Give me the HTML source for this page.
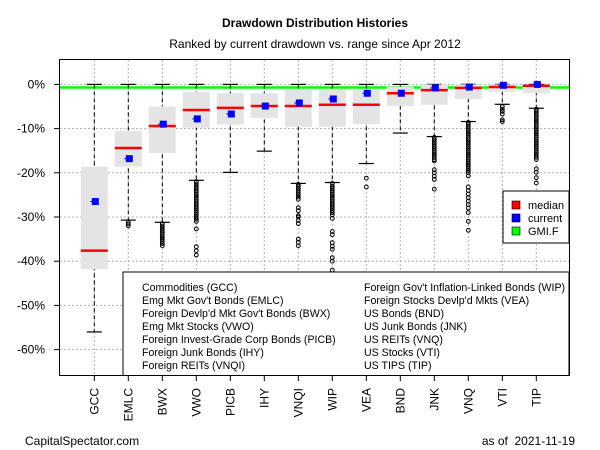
<!DOCTYPE html>
<html><head><meta charset="utf-8"><style>
html,body{margin:0;padding:0;background:#fff}
svg{display:block;font-family:"Liberation Sans",Arial,sans-serif}
</style></head><body>
<svg id="chart" width="600" height="450" viewBox="0 0 600 450" xmlns="http://www.w3.org/2000/svg">
<text x="315" y="27" text-anchor="middle" font-size="12" font-weight="bold">Drawdown Distribution Histories</text>
<text x="315" y="48" text-anchor="middle" font-size="12">Ranked by current drawdown vs. range since Apr 2012</text>
<g id="grid"></g>
<g id="yaxis"></g>
<g id="xaxis"></g>
<g id="boxes"></g>
<rect x="59.5" y="59.5" width="510" height="316" fill="none" stroke="#000" stroke-width="1"/>
<g>
<rect x="503" y="191" width="66" height="52" fill="#fff" stroke="#000"/>
<rect x="512" y="201" width="8" height="8" fill="#f00" stroke="#000" stroke-width="0.6"/>
<text x="528" y="209" font-size="11">median</text>
<rect x="512" y="214" width="8" height="8" fill="#00f" stroke="#000" stroke-width="0.6"/>
<text x="528" y="222" font-size="11">current</text>
<rect x="512" y="227" width="8" height="8" fill="#0f0" stroke="#000" stroke-width="0.6"/>
<text x="528" y="235" font-size="11">GMI.F</text>
</g>
<g>
<rect x="123" y="272" width="446" height="103.5" fill="#fff" stroke="#000"/>
<g font-size="10.6">
<text x="142" y="291">Commodities (GCC)</text>
<text x="142" y="304">Emg Mkt Gov't Bonds (EMLC)</text>
<text x="142" y="317">Foreign Devlp'd Mkt Gov't Bonds (BWX)</text>
<text x="142" y="330">Emg Mkt Stocks (VWO)</text>
<text x="142" y="343">Foreign Invest-Grade Corp Bonds (PICB)</text>
<text x="142" y="356">Foreign Junk Bonds (IHY)</text>
<text x="142" y="369">Foreign REITs (VNQI)</text>
<text x="364" y="291">Foreign Gov't Inflation-Linked Bonds (WIP)</text>
<text x="364" y="304">Foreign Stocks Devlp'd Mkts (VEA)</text>
<text x="364" y="317">US Bonds (BND)</text>
<text x="364" y="330">US Junk Bonds (JNK)</text>
<text x="364" y="343">US REITs (VNQ)</text>
<text x="364" y="356">US Stocks (VTI)</text>
<text x="364" y="369">US TIPS (TIP)</text>
</g></g>
<text x="25" y="445" font-size="12">CapitalSpectator.com</text>
<text x="575" y="445" font-size="12" text-anchor="end">as of&#160; 2021-11-19</text>
</svg>
<script>
const categories=["GCC","EMLC","BWX","VWO","PICB","IHY","VNQI","WIP","VEA","BND","JNK","VNQ","VTI","TIP"];
const whiskerHigh=[0,0,0,0,0,0,0,0,0,0,0,0,0,0];
const boxTop=[-18.6,-10.5,-5,-1.7,-2,-2,-1.1,-1.1,-1.1,-0.5,0,0,0,0];
const medians=[-37.6,-14.4,-9.4,-5.8,-5.3,-4.9,-4.9,-4.6,-4.6,-2,-1.3,-0.8,-0.6,-0.3];
const boxBottom=[-41.8,-18.6,-15.5,-9.8,-9.1,-7.6,-9.6,-9.6,-9,-4.9,-4.6,-3.3,-1.7,-2];
const whiskerLow=[-56,-30.7,-31.2,-21.7,-19.9,-15.1,-22.4,-22.2,-17.9,-11,-11.8,-8.4,-4.5,-5.4];
const current=[-26.5,-16.8,-9,-7.8,-6.7,-4.9,-4.2,-3.3,-2,-2,-0.8,-0.6,-0.2,0];
const gmiF=-0.7;
const outliers=[
[],
[-31.2,-31.6,-32],
[-31.5,-32,-32.5,-33,-33.5,-34,-34.5,-35,-35.5,-36,-36.5],
[-22,-22.5,-23,-23.5,-24,-24.5,-25,-25.5,-26,-26.5,-27,-27.5,-28,-28.5,-29,-29.5,-30,-30.5,-31,-32.7,-36.7,-37.6,-38.6],
[],
[],
[-22.6,-23,-23.5,-24,-24.5,-25,-25.5,-26,-27.9,-28.6,-29.7,-30,-30.8,-31.5,-35,-35.7,-36.5],
[-22.4,-23,-23.5,-24,-24.5,-25,-25.5,-26,-26.5,-27,-27.5,-28,-28.5,-29,-29.5,-30.3,-33.3,-34,-35.8,-36.6,-37.3,-39.2,-40,-42],
[-21.2,-23.2],
[],
[-12,-12.5,-13,-13.5,-14,-14.5,-15,-15.5,-16,-16.5,-17,-17.3,-19.3,-20,-20.8,-21.5,-23.7],
[-8.6,-9,-9.5,-10,-10.5,-11,-11.5,-12,-12.5,-13,-13.5,-14,-14.5,-15,-15.5,-16,-16.5,-17,-17.5,-18,-18.5,-19,-19.5,-20,-20.7,-23.2,-24,-24.8,-25.6,-26.4,-27.2,-28,-29,-31,-33],
[-5,-5.6,-6.1,-6.7,-8,-8.4],
[-5.6,-6,-6.5,-7,-7.5,-8,-8.5,-9,-9.5,-10,-10.5,-11,-11.5,-12,-12.5,-13,-13.5,-14,-14.5,-15,-15.5,-16,-16.5,-17,-19.1,-19.9,-21.1,-22.3]
];
const yTicks=[0,-10,-20,-30,-40,-50,-60];
const yTickLabels=["0%","-10%","-20%","-30%","-40%","-50%","-60%"];

const NS="http://www.w3.org/2000/svg";
const Y0=84.4, PX=4.42;
function yScale(v){return Y0-v*PX;}
function xScale(i){return 94.3+i*34;}
function mk(tag,attrs,parent){const e=document.createElementNS(NS,tag);for(const k in attrs)e.setAttribute(k,attrs[k]);parent.appendChild(e);return e;}
const grid=document.getElementById('grid'),yaxis=document.getElementById('yaxis'),xaxis=document.getElementById('xaxis'),boxes=document.getElementById('boxes');

yTicks.forEach((t,k)=>{
  const y=yScale(t);
  const g=mk('line',{x1:60,x2:569,y1:y,y2:y,stroke:'#b0b0b0','stroke-dasharray':'2,2','stroke-width':1},grid);
  
  
  const tk=mk('line',{x1:54,x2:59.5,y1:y,y2:y,stroke:'#000'},yaxis);
  
  
  const tx=mk('text',{x:45,y:y+4,'text-anchor':'end','font-size':12},yaxis);
  tx.textContent=yTickLabels[k];
  
  
});
categories.forEach((c,i)=>{
  const x=xScale(i);
  const g=mk('line',{x1:x,x2:x,y1:60,y2:375,stroke:'#b0b0b0','stroke-dasharray':'2,2','stroke-width':1},grid);
  
  
  const tk=mk('line',{x1:x,x2:x,y1:375.5,y2:381,stroke:'#000'},xaxis);
  
  
  const tx=mk('text',{x:0,y:0,'text-anchor':'end','font-size':12,transform:`translate(${x+4},388) rotate(-90)`},xaxis);
  tx.textContent=c;
  
  
});
const gl=mk('line',{x1:60,x2:569,y1:yScale(gmiF),y2:yScale(gmiF),stroke:'#00ff00','stroke-width':2.5},grid);



categories.forEach((c,i)=>{
  const x=xScale(i), bw=27, cw=13;
  const g=mk('g',{},boxes);
  
  
  const w=mk('line',{x1:x,x2:x,y1:yScale(whiskerHigh[i]),y2:yScale(whiskerLow[i]),stroke:'#000','stroke-dasharray':'4,3','stroke-width':1},g);
  
  
  [whiskerHigh[i],whiskerLow[i]].forEach(v=>{
    const cap=mk('line',{x1:x-cw/2-1,x2:x+cw/2+1,y1:yScale(v),y2:yScale(v),stroke:'#000','stroke-width':1.2},g);
    
    
  });
  const b=mk('rect',{x:x-bw/2,y:yScale(boxTop[i]),width:bw,height:yScale(boxBottom[i])-yScale(boxTop[i]),fill:'#e4e4e4'},g);
  
  
  outliers[i].forEach(v=>{
    const o=mk('circle',{cx:x,cy:yScale(v),r:1.9,fill:'none',stroke:'#000','stroke-width':1},g);
    
    
  });
  const m=mk('line',{x1:x-bw/2,x2:x+bw/2,y1:yScale(medians[i]),y2:yScale(medians[i]),stroke:'#f00','stroke-width':2.5},g);
  
  
  const cy=yScale(current[i]);
  const cd=mk('line',{x1:x-4,x2:x,y1:cy,y2:cy,stroke:'#00f','stroke-width':1},g);
  
  
  const cur=mk('rect',{x:x-2.5,y:cy-3.5,width:7,height:7,fill:'#00f'},g);
  
  
});
</script>
</body></html>
